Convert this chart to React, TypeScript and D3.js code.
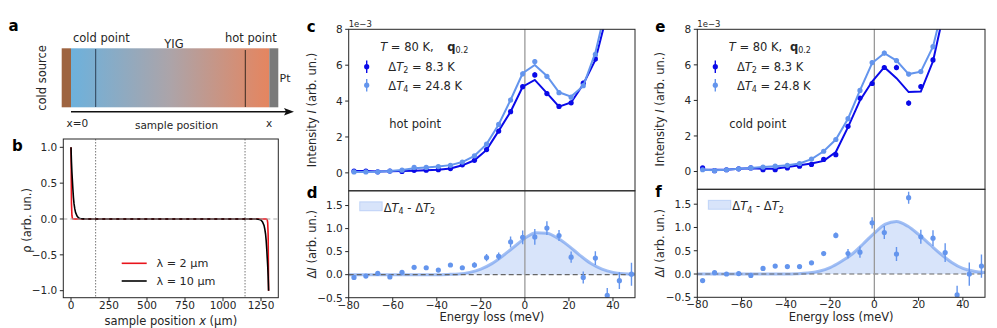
import React from 'react';
import * as d3 from 'd3';

// ---- data ----
const energy = [-77.6, -72.2, -66.8, -61.3, -55.8, -50.3, -44.8, -39.3, -33.8, -28.4, -22.9, -17.4, -11.9, -6.5, -1.0, 4.5, 10.0, 15.5, 21.0, 26.5, 32.0, 37.4, 42.9, 48.4];
const fitEnergy = [-80, -75, -70, -65, -60, -55, -50, -45, -40, -35, -30, -25, -20, -15, -10, -5, 0, 5, 10, 15, 20, 25, 30, 35, 40, 45, 50];

// panel c (hot point)
const hotT2 = [0.10, 0.10, 0.06, 0.10, 0.08, 0.14, 0.15, 0.18, 0.24, 0.45, 0.70, 1.30, 2.33, 3.41, 4.80, 5.46, 4.42, 3.70, 3.90, 5.00, 6.35];
const hotT2Err = [0.06, 0.06, 0.06, 0.06, 0.06, 0.06, 0.06, 0.06, 0.06, 0.07, 0.08, 0.10, 0.12, 0.12, 0.13, 0.14, 0.13, 0.12, 0.12, 0.13, 0.14];
const hotT2Fit = [0.10, 0.10, 0.08, 0.09, 0.10, 0.12, 0.14, 0.17, 0.24, 0.42, 0.70, 1.28, 2.34, 3.41, 4.80, 5.18, 4.44, 3.69, 3.92, 4.94, 6.29, 8.9];
const hotT4 = [0.05, 0.05, 0.05, 0.10, 0.15, 0.30, 0.30, 0.35, 0.42, 0.60, 0.95, 1.60, 2.70, 4.06, 5.52, 6.20, 5.38, 4.47, 4.22, 4.86, 6.60];
const hotT4Err = [0.06, 0.06, 0.06, 0.06, 0.06, 0.06, 0.06, 0.06, 0.06, 0.07, 0.08, 0.10, 0.12, 0.12, 0.13, 0.14, 0.13, 0.12, 0.12, 0.13, 0.14];
const hotT4Fit = [0.05, 0.05, 0.06, 0.10, 0.16, 0.26, 0.30, 0.35, 0.43, 0.60, 0.95, 1.60, 2.70, 4.06, 5.55, 6.01, 5.40, 4.49, 4.25, 4.84, 6.70, 9.5];
// panel d
const hotDiff = [-0.06, -0.03, 0.03, -0.05, 0.05, 0.16, 0.15, 0.10, 0.21, 0.15, 0.21, 0.37, 0.40, 0.71, 0.81, 0.82, 1.01, 0.85, 0.38, -0.06, 0.36, -0.45, -0.13, 0.01];
const hotDiffErr = [0.02, 0.02, 0.02, 0.03, 0.03, 0.03, 0.03, 0.03, 0.03, 0.04, 0.06, 0.08, 0.08, 0.12, 0.15, 0.17, 0.15, 0.12, 0.12, 0.13, 0.15, 0.16, 0.18, 0.25];
const hotDiffFit = [0, 0, 0, 0, 0, 0, 0, 0, 0, 0.005, 0.015, 0.05, 0.12, 0.24, 0.41, 0.60, 0.79, 0.91, 0.90, 0.79, 0.62, 0.42, 0.24, 0.12, 0.05, 0.02, 0.01];

// panel e (cold point)
const coldT2 = [0.20, 0.05, 0.10, 0.15, 0.20, 0.10, 0.10, 0.20, 0.30, 0.40, 0.68, 0.95, 2.54, 4.13, 4.95, 5.85, 5.85, 3.85, 4.78, 6.28];
const coldT2Err = [0.07, 0.06, 0.06, 0.06, 0.06, 0.06, 0.06, 0.06, 0.06, 0.07, 0.08, 0.10, 0.12, 0.12, 0.13, 0.14, 0.15, 0.15, 0.14, 0.14];
const coldT2Fit = [0.10, 0.10, 0.10, 0.15, 0.18, 0.15, 0.16, 0.25, 0.35, 0.45, 0.60, 1.10, 2.50, 4.00, 5.06, 5.87, 5.25, 4.47, 4.50, 6.20, 9.3];
const coldT4 = [0.10, 0.05, 0.10, 0.15, 0.20, 0.25, 0.30, 0.35, 0.45, 0.70, 1.14, 1.80, 2.97, 4.56, 6.13, 6.66, 6.24, 5.48, 5.62, 7.02];
const coldT4Err = [0.06, 0.06, 0.06, 0.06, 0.06, 0.06, 0.06, 0.06, 0.06, 0.07, 0.08, 0.10, 0.12, 0.12, 0.13, 0.14, 0.13, 0.12, 0.12, 0.13];
const coldT4Fit = [0.10, 0.07, 0.10, 0.15, 0.20, 0.25, 0.30, 0.35, 0.45, 0.70, 1.14, 1.80, 2.97, 4.56, 6.10, 6.66, 6.24, 5.48, 5.62, 7.02, 9.8];
// panel f
const coldDiff = [-0.14, 0.03, 0.0, 0.01, -0.03, 0.12, 0.17, 0.16, 0.16, 0.24, 0.44, 0.83, 0.44, 0.47, 1.10, 0.89, 0.43, 1.64, 0.80, 0.77, 0.46, -0.45, 0.0, 0.17];
const coldDiffErr = [0.03, 0.03, 0.03, 0.03, 0.03, 0.03, 0.03, 0.03, 0.03, 0.04, 0.05, 0.06, 0.10, 0.12, 0.12, 0.14, 0.15, 0.13, 0.15, 0.17, 0.20, 0.20, 0.25, 0.25];
const coldDiffFit = [0, 0, 0, 0, 0, 0, 0, 0, 0, 0.005, 0.02, 0.06, 0.14, 0.27, 0.43, 0.65, 0.88, 1.07, 1.13, 1.03, 0.85, 0.64, 0.43, 0.25, 0.12, 0.06, 0.03];

// panel b
const bPos = [0, 3, 6, 9, 12, 16, 20, 25, 30, 40, 50, 60, 80, 100, 1200, 1220, 1240, 1250, 1260, 1270, 1275, 1280, 1284, 1288, 1291, 1294, 1297, 1300];
const rhoLam2 = [1.0, 0.22, 0.05, 0.011, 0.002, 0, 0, 0, 0, 0, 0, 0, 0, 0, 0, 0, 0, 0, 0, 0, 0, 0, 0, -0.002, -0.011, -0.05, -0.22, -1.0];
const rhoLam10 = [1.0, 0.8, 0.65, 0.54, 0.43, 0.3, 0.21, 0.14, 0.09, 0.04, 0.015, 0.006, 0.001, 0, 0, -0.001, -0.006, -0.015, -0.04, -0.09, -0.14, -0.21, -0.3, -0.43, -0.54, -0.65, -0.8, -1.0];
const markerLines = [162, 1145];

const energyTicks = [-80, -60, -40, -20, 0, 20, 40];
const intensityTicks = [0, 2, 4, 6, 8];
const diffTicks = [-0.5, 0, 0.5, 1.0, 1.5];
const bXTicks = [0, 250, 500, 750, 1000, 1250];
const bYTicks = [-1, -0.5, 0, 0.5, 1];

const FONT = '"DejaVu Sans", Verdana, sans-serif';
const INK = '#262626';
const DARK = '#0a0ae8';
const LIGHT = '#6495ed';
const fmt1 = (v: number) => d3.format('.1f')(v).replace('-', '\u2212');
const fmtInt = (v: number) => String(v).replace('-', '\u2212');

const Points = ({ vals, errs, xs, y, color, r }: any) => (
  <g>
    {vals.map((v: number, i: number) => (
      <g key={i}>
        <line x1={xs[i]} x2={xs[i]} y1={y(v - errs[i])} y2={y(v + errs[i])} stroke={color} strokeWidth={1.4} />
        <circle cx={xs[i]} cy={y(v)} r={r} fill={color} />
      </g>
    ))}
  </g>
);

const Spectra = (p: any) => {
  const { left, right, top, mid, bottom, id } = p;
  const x = d3.scaleLinear().domain([-80, 50]).range([left, right]);
  const yI = d3.scaleLinear().domain([-1, 8]).range([mid, top]);
  const yD = d3.scaleLinear().domain([-0.5, 1.82]).range([bottom, mid]);
  const xs = energy.map(e => x(e));
  const lineI = d3.line<number>().x((_, i) => xs[i]).y(d => yI(d));
  const fitLine = d3.line<number>().x((_, i) => x(fitEnergy[i])).y(d => yD(d)).curve(d3.curveMonotoneX);
  const fitArea = d3.area<number>().x((_, i) => x(fitEnergy[i])).y0(yD(0)).y1(d => yD(d)).curve(d3.curveMonotoneX);
  const fs = 11.5;
  return (
    <g fontFamily={FONT} fill={INK}>
      <defs>
        <clipPath id={id + 'top'}><rect x={left} y={top} width={right - left} height={mid - top} /></clipPath>
        <clipPath id={id + 'bot'}><rect x={left} y={mid} width={right - left} height={bottom - mid} /></clipPath>
      </defs>
      {/* upper panel */}
      <g clipPath={`url(#${id}top)`}>
        <line x1={x(0)} x2={x(0)} y1={top} y2={mid} stroke="#999" strokeWidth={1.3} />
        <path d={lineI(p.t2Fit) || ''} fill="none" stroke={DARK} strokeWidth={2} />
        <Points vals={p.t2} errs={p.t2Err} xs={xs} y={yI} color={DARK} r={2.6} />
        <path d={lineI(p.t4Fit) || ''} fill="none" stroke={LIGHT} strokeWidth={2} />
        <Points vals={p.t4} errs={p.t4Err} xs={xs} y={yI} color={LIGHT} r={2.6} />
      </g>
      {/* lower panel */}
      <g clipPath={`url(#${id}bot)`}>
        <path d={fitArea(p.diffFit) || ''} fill={LIGHT} fillOpacity={0.25} />
        <path d={fitLine(p.diffFit) || ''} fill="none" stroke={LIGHT} strokeOpacity={0.6} strokeWidth={3} />
        <line x1={left} x2={right} y1={yD(0)} y2={yD(0)} stroke="#666" strokeWidth={1.2} strokeDasharray="5,3" />
        <line x1={x(0)} x2={x(0)} y1={mid} y2={bottom} stroke="#999" strokeWidth={1.3} />
        <Points vals={p.diff} errs={p.diffErr} xs={xs} y={yD} color={LIGHT} r={2.6} />
      </g>
      <rect x={left} y={top} width={right - left} height={mid - top} fill="none" stroke={INK} strokeWidth={1} />
      <rect x={left} y={mid} width={right - left} height={bottom - mid} fill="none" stroke={INK} strokeWidth={1} />
      {/* y ticks upper */}
      {intensityTicks.map(t => (
        <g key={'i' + t}>
          <line x1={left - 3.5} x2={left} y1={yI(t)} y2={yI(t)} stroke={INK} />
          <text x={left - 6} y={yI(t) + 3.8} fontSize={10.5} textAnchor="end">{t}</text>
        </g>
      ))}
      <text x={left} y={26.5} fontSize={8.5}>1e−3</text>
      {diffTicks.map(t => (
        <g key={'d' + t}>
          <line x1={left - 3.5} x2={left} y1={yD(t)} y2={yD(t)} stroke={INK} />
          <text x={left - 6} y={yD(t) + 3.8} fontSize={10.5} textAnchor="end">{fmt1(t)}</text>
        </g>
      ))}
      {energyTicks.map(t => (
        <g key={'e' + t}>
          <line x1={x(t)} x2={x(t)} y1={bottom} y2={bottom + 3.5} stroke={INK} />
          <text x={x(t)} y={bottom + 11} fontSize={10.5} textAnchor="middle">{fmtInt(t)}</text>
        </g>
      ))}
      {/* axis labels */}
      <text transform={`translate(${left - 33},${(top + mid) / 2}) rotate(-90)`} fontSize={fs} textAnchor="middle">
        Intensity <tspan fontStyle="italic">I</tspan> (arb. un.)
      </text>
      <text transform={`translate(${left - 33},${(mid + bottom) / 2}) rotate(-90)`} fontSize={fs} textAnchor="middle">
        Δ<tspan fontStyle="italic">I</tspan> (arb. un.)
      </text>
      <text x={(left + right) / 2} y={bottom + 23.5} fontSize={fs} textAnchor="middle">Energy loss (meV)</text>
      {/* legend upper */}
      <text x={left + 31.5} y={50.5} fontSize={fs}>
        <tspan fontStyle="italic">T</tspan> = 80 K,
        <tspan x={left + p.qX} fontWeight="bold">q</tspan>
        <tspan fontSize={8} dy={2.5}>0.2</tspan>
      </text>
      <line x1={left + 18} x2={left + 18} y1={60.5} y2={73} stroke={DARK} strokeWidth={1.4} />
      <circle cx={left + 18} cy={66.7} r={2.6} fill={DARK} />
      <text x={left + 39.6} y={70.5} fontSize={fs}>
        Δ<tspan fontStyle="italic">T</tspan><tspan fontSize={8} dy={2.5}>2</tspan><tspan dy={-2.5}> = 8.3 K</tspan>
      </text>
      <line x1={left + 18} x2={left + 18} y1={79} y2={91.5} stroke={LIGHT} strokeWidth={1.4} />
      <circle cx={left + 18} cy={85.2} r={2.6} fill={LIGHT} />
      <text x={left + 39.6} y={89.5} fontSize={fs}>
        Δ<tspan fontStyle="italic">T</tspan><tspan fontSize={8} dy={2.5}>4</tspan><tspan dy={-2.5}> = 24.8 K</tspan>
      </text>
      <text x={left + p.siteX} y={128} fontSize={fs}>{p.site}</text>
      {/* legend lower */}
      <rect x={left + 11} y={mid + 11} width={22.5} height={9} fill={LIGHT} fillOpacity={0.25} stroke={LIGHT} strokeOpacity={0.3} />
      <text x={left + 35} y={mid + 21} fontSize={fs}>
        Δ<tspan fontStyle="italic">T</tspan><tspan fontSize={8} dy={2.5}>4</tspan><tspan dy={-2.5}> - Δ</tspan><tspan fontStyle="italic">T</tspan><tspan fontSize={8} dy={2.5}>2</tspan>
      </text>
      {/* panel letters */}
      <text x={left - 42} y={32.3} fontSize={15} fontWeight="bold" fill="#000">{p.letterTop}</text>
      <text x={left - 42} y={mid + 7.5} fontSize={15} fontWeight="bold" fill="#000">{p.letterBottom}</text>
    </g>
  );
};

const PanelB = () => {
  const left = 63.3, right = 278.3, top = 139, bottom = 297.7;
  const x = d3.scaleLinear().domain([-50.7, 1363.8]).range([left, right]);
  const y = d3.scaleLinear().domain([-1.098, 1.116]).range([bottom, top]);
  const line = d3.line<number>().x((_, i) => x(bPos[i])).y(d => y(d));
  return (
    <g fontFamily={FONT} fill={INK}>
      <defs>
        <clipPath id="bclip"><rect x={left} y={top} width={right - left} height={bottom - top} /></clipPath>
      </defs>
      <g clipPath="url(#bclip)">
        {markerLines.map(m => (
          <line key={m} x1={x(m)} x2={x(m)} y1={top} y2={bottom} stroke="#777" strokeWidth={1} strokeDasharray="1.5,1.5" />
        ))}
        <path d={line(rhoLam2) || ''} fill="none" stroke="#e8141c" strokeWidth={1.6} />
        <path d={line(rhoLam10) || ''} fill="none" stroke="#000" strokeWidth={1.6} />
        <line x1={left} x2={right} y1={y(0)} y2={y(0)} stroke="#aaa" strokeWidth={1.2} strokeDasharray="4,3" />
      </g>
      <rect x={left} y={top} width={right - left} height={bottom - top} fill="none" stroke={INK} />
      {bYTicks.map(t => (
        <g key={'by' + t}>
          <line x1={left - 3.5} x2={left} y1={y(t)} y2={y(t)} stroke={INK} />
          <text x={left - 6} y={y(t) + 3.8} fontSize={10.5} textAnchor="end">{fmt1(t)}</text>
        </g>
      ))}
      {bXTicks.map(t => (
        <g key={'bx' + t}>
          <line x1={x(t)} x2={x(t)} y1={bottom} y2={bottom + 3.5} stroke={INK} />
          <text x={x(t)} y={bottom + 11.5} fontSize={10.5} textAnchor="middle">{t}</text>
        </g>
      ))}
      <text transform={`translate(31,${(top + bottom) / 2 + 2}) rotate(-90)`} fontSize={11.5} textAnchor="middle">ρ (arb. un.)</text>
      <text x={(left + right) / 2} y={324.5} fontSize={11.5} textAnchor="middle">
        sample position <tspan fontStyle="italic">x</tspan> (μm)
      </text>
      <line x1={121.7} x2={146.7} y1={263.3} y2={263.3} stroke="#e8141c" strokeWidth={1.6} />
      <text x={156.5} y={267.3} fontSize={11.2}>λ = 2 μm</text>
      <line x1={121.7} x2={146.7} y1={281} y2={281} stroke="#000" strokeWidth={1.6} />
      <text x={156.5} y={285} fontSize={11.2}>λ = 10 μm</text>
      <text x={12} y={150.5} fontSize={15} fontWeight="bold" fill="#000">b</text>
    </g>
  );
};

const PanelA = () => (
  <g fontFamily={FONT} fill={INK}>
    <defs>
      <linearGradient id="yig" x1="0" x2="1" y1="0" y2="0">
        <stop offset="0" stopColor="#6db1dc" />
        <stop offset="0.5" stopColor="#aca4a9" />
        <stop offset="1" stopColor="#e5855f" />
      </linearGradient>
    </defs>
    <rect x={61.7} y={48.3} width={9.3} height={59} fill="#9e6440" />
    <rect x={71} y={48.3} width={198.3} height={59} fill="url(#yig)" />
    <rect x={269.3} y={48.3} width={9} height={59} fill="#7a7a7a" />
    <line x1={95.7} x2={95.7} y1={49} y2={107} stroke="#2d3f55" strokeWidth={1} />
    <line x1={245.3} x2={245.3} y1={50} y2={107} stroke="#3a2a22" strokeWidth={1} />
    <line x1={71} x2={286} y1={111.7} y2={111.7} stroke="#111" strokeWidth={1.5} />
    <path d="M 294 111.7 L 284 108 L 286 111.7 L 284 115.4 Z" fill="#111" />
    <text x={73} y={42} fontSize={11.5}>cold point</text>
    <text x={174} y={47.5} fontSize={11.5} textAnchor="middle">YIG</text>
    <text x={225} y={42} fontSize={11.5}>hot point</text>
    <text x={279.5} y={81.5} fontSize={11}>Pt</text>
    <text transform="translate(45.5,78) rotate(-90)" fontSize={11.5} textAnchor="middle">cold source</text>
    <text x={66.5} y={126.5} fontSize={10.5}>x=0</text>
    <text x={176.5} y={129} fontSize={10.5} textAnchor="middle">sample position</text>
    <text x={266} y={126.5} fontSize={10.5}>x</text>
    <text x={8.5} y={30.7} fontSize={15} fontWeight="bold" fill="#000">a</text>
  </g>
);

export default function App() {
  return (
    <svg width={997} height={328} style={{ position: 'absolute', left: 0, top: 0, background: '#fff' }}>
      <rect width={997} height={328} fill="#fff" />
      <PanelA />
      <PanelB />
      <Spectra id="hot" left={348.7} right={635} top={29.3} mid={190.8} bottom={297.7}
        t2={hotT2} t2Err={hotT2Err} t2Fit={hotT2Fit} t4={hotT4} t4Err={hotT4Err} t4Fit={hotT4Fit}
        diff={hotDiff} diffErr={hotDiffErr} diffFit={hotDiffFit}
        site="hot point" siteX={40.6} qX={98.6} letterTop="c" letterBottom="d" />
      <Spectra id="cold" left={697.3} right={985} top={29.3} mid={189.3} bottom={297.3}
        t2={coldT2} t2Err={coldT2Err} t2Fit={coldT2Fit} t4={coldT4} t4Err={coldT4Err} t4Fit={coldT4Fit}
        diff={coldDiff} diffErr={coldDiffErr} diffFit={coldDiffFit}
        site="cold point" siteX={32} qX={92.7} letterTop="e" letterBottom="f" />
    </svg>
  );
}
